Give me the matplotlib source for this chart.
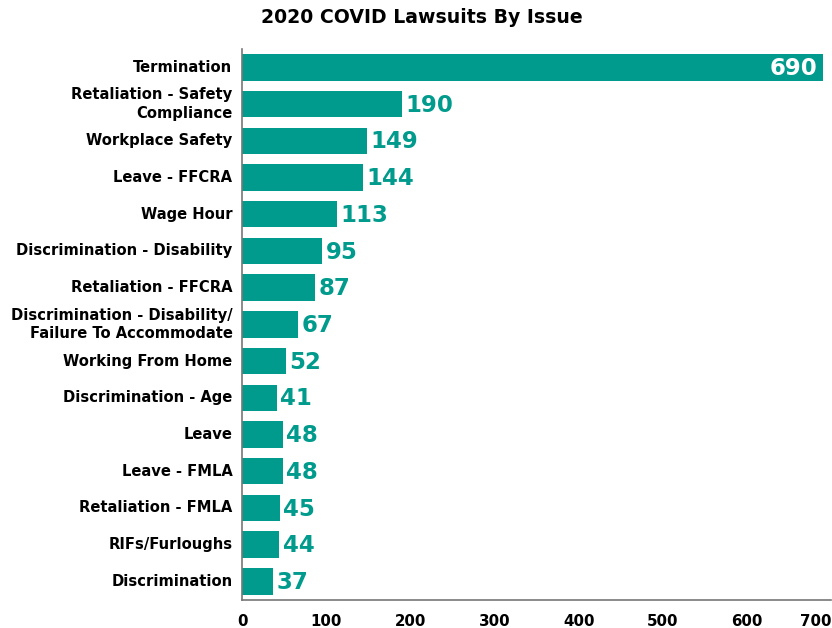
import matplotlib
matplotlib.use('Agg')
import matplotlib.pyplot as plt

plt.rcParams['font.family'] = ['DejaVu Sans']

# data, top to bottom
issues = [
    'Termination',
    'Retaliation - Safety\nCompliance',
    'Workplace Safety',
    'Leave - FFCRA',
    'Wage Hour',
    'Discrimination - Disability',
    'Retaliation - FFCRA',
    'Discrimination - Disability/\nFailure To Accommodate',
    'Working From Home',
    'Discrimination - Age',
    'Leave',
    'Leave - FMLA',
    'Retaliation - FMLA',
    'RIFs/Furloughs',
    'Discrimination',
]
counts = [690, 190, 149, 144, 113, 95, 87, 67, 52, 41, 48, 48, 45, 44, 37]
xticks = [0, 100, 200, 300, 400, 500, 600, 700]

teal = '#009b8c'

fig = plt.figure(figsize=(8.32, 6.28), dpi=100)
ax = fig.add_axes([0.291, 0.045, 0.708, 0.877])

ypos = list(range(len(issues)))
ax.barh(ypos, counts, height=0.72, color=teal)
ax.set_ylim(len(issues) - 0.5, -0.5)
ax.set_xlim(0, 700)

for y, v in zip(ypos, counts):
    if v > 600:
        ax.text(v - 6, y + 0.03, str(v), ha='right', va='center', color='white',
                fontsize=16.5, fontweight='bold')
    else:
        ax.text(v + 4, y + 0.03, str(v), ha='left', va='center', color=teal,
                fontsize=16.5, fontweight='bold')

ax.set_yticks(ypos)
ax.set_yticklabels(issues, fontsize=10.6, fontweight='bold', linespacing=1.3,
                   multialignment='right', va='center')
ax.set_xticks(xticks)
ax.set_xticklabels([str(t) for t in xticks], fontsize=10.8, fontweight='bold')
ax.get_xticklabels()[-1].set_ha('right')
ax.tick_params(axis='both', length=0, pad=7)
ax.tick_params(axis='x', pad=10)

for s in ['top', 'right']:
    ax.spines[s].set_visible(False)
for s in ['left', 'bottom']:
    ax.spines[s].set_color('#777777')
    ax.spines[s].set_linewidth(1.2)

fig.text(0.507, 0.972, '2020 COVID Lawsuits By Issue', ha='center', va='center',
         fontsize=13.6, fontweight='bold')

fig.savefig('out.png', dpi=100)
